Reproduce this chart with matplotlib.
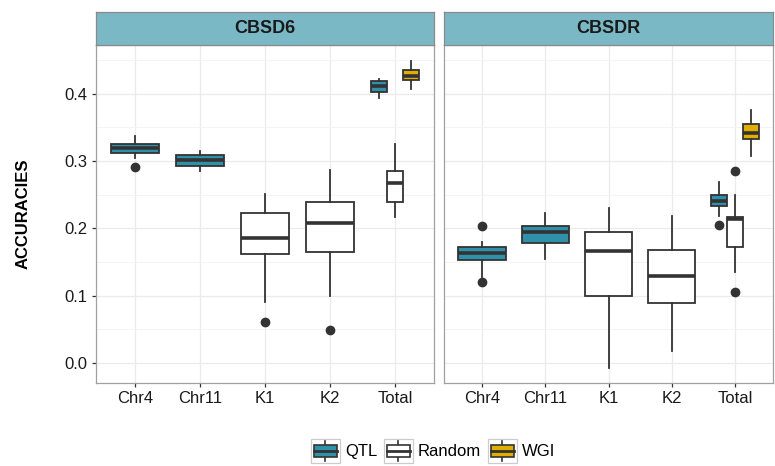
import matplotlib
matplotlib.use("Agg")
import matplotlib.pyplot as plt
from matplotlib.patches import Rectangle
from matplotlib.lines import Line2D
from matplotlib.legend_handler import HandlerBase
import numpy as np

plt.rcParams['font.family'] = ['Liberation Sans', 'DejaVu Sans']

categories = ["Chr4", "Chr11", "K1", "K2", "Total"]
panels = ["CBSD6", "CBSDR"]
groups = ["QTL", "Random", "WGI"]
group_colors = {"QTL": "#2F90AA", "Random": "#FFFFFF", "WGI": "#E0AE00"}

# ---- CBSD6 ----
cbsd6_qtl_cats = ["Chr4", "Chr11", "Total"]
cbsd6_qtl_lo = [0.305, 0.285, 0.394]
cbsd6_qtl_q1 = [0.312, 0.292, 0.403]
cbsd6_qtl_med = [0.320, 0.302, 0.411]
cbsd6_qtl_q3 = [0.325, 0.309, 0.4185]
cbsd6_qtl_hi = [0.338, 0.315, 0.422]
cbsd6_qtl_out = [[0.291], [], []]

cbsd6_rand_cats = ["K1", "K2", "Total"]
cbsd6_rand_lo = [0.090, 0.100, 0.217]
cbsd6_rand_q1 = [0.162, 0.165, 0.239]
cbsd6_rand_med = [0.186, 0.208, 0.267]
cbsd6_rand_q3 = [0.223, 0.239, 0.286]
cbsd6_rand_hi = [0.251, 0.287, 0.325]
cbsd6_rand_out = [[0.0615], [0.049], []]

cbsd6_wgi_cats = ["Total"]
cbsd6_wgi_lo = [0.407]
cbsd6_wgi_q1 = [0.420]
cbsd6_wgi_med = [0.427]
cbsd6_wgi_q3 = [0.436]
cbsd6_wgi_hi = [0.448]
cbsd6_wgi_out = [[]]

# ---- CBSDR ----
cbsdr_qtl_cats = ["Chr4", "Chr11", "Total"]
cbsdr_qtl_lo = [0.128, 0.154, 0.218]
cbsdr_qtl_q1 = [0.153, 0.178, 0.234]
cbsdr_qtl_med = [0.163, 0.194, 0.241]
cbsdr_qtl_q3 = [0.173, 0.204, 0.250]
cbsdr_qtl_hi = [0.1805, 0.2235, 0.269]
cbsdr_qtl_out = [[0.203, 0.120], [], [0.205]]

cbsdr_rand_cats = ["K1", "K2", "Total"]
cbsdr_rand_lo = [-0.007, 0.0185, 0.135]
cbsdr_rand_q1 = [0.099, 0.089, 0.173]
cbsdr_rand_med = [0.166, 0.129, 0.2135]
cbsdr_rand_q3 = [0.195, 0.168, 0.2165]
cbsdr_rand_hi = [0.231, 0.219, 0.250]
cbsdr_rand_out = [[], [], [0.285, 0.105]]

cbsdr_wgi_cats = ["Total"]
cbsdr_wgi_lo = [0.3075]
cbsdr_wgi_q1 = [0.3325]
cbsdr_wgi_med = [0.342]
cbsdr_wgi_q3 = [0.3545]
cbsdr_wgi_hi = [0.3755]
cbsdr_wgi_out = [[]]

series = {
    "CBSD6": {
        "QTL": (cbsd6_qtl_cats, cbsd6_qtl_lo, cbsd6_qtl_q1, cbsd6_qtl_med, cbsd6_qtl_q3, cbsd6_qtl_hi, cbsd6_qtl_out),
        "Random": (cbsd6_rand_cats, cbsd6_rand_lo, cbsd6_rand_q1, cbsd6_rand_med, cbsd6_rand_q3, cbsd6_rand_hi, cbsd6_rand_out),
        "WGI": (cbsd6_wgi_cats, cbsd6_wgi_lo, cbsd6_wgi_q1, cbsd6_wgi_med, cbsd6_wgi_q3, cbsd6_wgi_hi, cbsd6_wgi_out),
    },
    "CBSDR": {
        "QTL": (cbsdr_qtl_cats, cbsdr_qtl_lo, cbsdr_qtl_q1, cbsdr_qtl_med, cbsdr_qtl_q3, cbsdr_qtl_hi, cbsdr_qtl_out),
        "Random": (cbsdr_rand_cats, cbsdr_rand_lo, cbsdr_rand_q1, cbsdr_rand_med, cbsdr_rand_q3, cbsdr_rand_hi, cbsdr_rand_out),
        "WGI": (cbsdr_wgi_cats, cbsdr_wgi_lo, cbsdr_wgi_q1, cbsdr_wgi_med, cbsdr_wgi_q3, cbsdr_wgi_hi, cbsdr_wgi_out),
    },
}

W, H = 775, 466
fig = plt.figure(figsize=(W / 100, H / 100), dpi=100)

def fx(px):
    return px / W

def fy(py):
    return 1 - py / H

panel_px = [(96, 434), (444, 773)]
top_px, bot_px, strip_top = 45, 383, 12
line_col = "#333333"
dodge = 0.75

for pi, (pname, (x0, x1)) in enumerate(zip(panels, panel_px)):
    ax = fig.add_axes([fx(x0), fy(bot_px), fx(x1 - x0), (bot_px - top_px) / H])
    ax.set_xlim(0.4, 5.6)
    ax.set_ylim(-0.0297, 0.4725)
    ax.set_yticks([0.0, 0.1, 0.2, 0.3, 0.4])
    ax.set_yticks([0.05, 0.15, 0.25, 0.35, 0.45], minor=True)
    ax.set_xticks(range(1, 6))
    ax.set_xticklabels(categories)
    ax.grid(True, which="major", color="#EBEBEB", lw=0.9, zorder=0)
    ax.grid(True, which="minor", axis="y", color="#F3F3F3", lw=0.6, zorder=0)
    ax.set_axisbelow(True)
    for s in ax.spines.values():
        s.set_color("#A0A0A0")
        s.set_linewidth(0.9)
    ax.tick_params(axis="both", which="major", length=3, width=0.9, color=line_col,
                   labelsize=12, labelcolor="#1A1A1A", pad=3)
    ax.tick_params(axis="y", which="minor", length=0)
    if pi == 0:
        ax.set_ylabel("ACCURACIES", fontsize=12, fontweight="bold", labelpad=22)
        ax.yaxis.set_label_coords(-0.195, 0.5)
    else:
        ax.tick_params(axis="y", which="major", length=0, labelleft=False)

    # count groups per category for dodging
    present = {c: [g for g in groups if c in series[pname][g][0]] for c in categories}
    for g in groups:
        cats, lo, q1, med, q3, hi, out = series[pname][g]
        stats, pos, wid = [], [], []
        for i, c in enumerate(cats):
            n = len(present[c])
            k = present[c].index(g)
            w = dodge / n
            center = categories.index(c) + 1 - dodge / 2 + w * (k + 0.5)
            stats.append(dict(whislo=lo[i], q1=q1[i], med=med[i], q3=q3[i],
                              whishi=hi[i], fliers=np.array(out[i])))
            pos.append(center)
            wid.append(w)
        ax.bxp(stats, positions=pos, widths=wid, patch_artist=True, showcaps=False,
               boxprops=dict(facecolor=group_colors[g], edgecolor=line_col, linewidth=1.3),
               whiskerprops=dict(color=line_col, linewidth=1.3),
               medianprops=dict(color=line_col, linewidth=2.6, solid_capstyle="butt"),
               flierprops=dict(marker="o", markerfacecolor=line_col, markeredgecolor=line_col,
                               markersize=6),
               manage_ticks=False, zorder=3)

    # strip
    sax = fig.add_axes([fx(x0), fy(top_px), fx(x1 - x0), (top_px - strip_top) / H])
    sax.set_facecolor("#7AB8C6")
    sax.set_xticks([])
    sax.set_yticks([])
    for s in sax.spines.values():
        s.set_color("#8A8A8A")
        s.set_linewidth(0.9)
    sax.text(0.5, 0.5, pname, ha="center", va="center", fontsize=13,
             fontweight="bold", color="#1A1A1A", transform=sax.transAxes)


class BoxKey(HandlerBase):
    def create_artists(self, legend, orig_handle, xdescent, ydescent, width, height,
                       fontsize, trans):
        fc = orig_handle.get_facecolor()
        x0, y0 = -xdescent, -ydescent
        arts = [Rectangle((x0, y0), width, height, facecolor="#FFFFFF", edgecolor="#CCCCCC",
                          lw=0.9, transform=trans)]
        bx0, bw = x0 + width * 0.1, width * 0.8
        by0, bh = y0 + height * 0.25, height * 0.5
        arts.append(Line2D([x0 + width / 2] * 2, [y0 + height * 0.08, y0 + height * 0.92],
                           color=line_col, lw=1.2, transform=trans))
        arts.append(Rectangle((bx0, by0), bw, bh, facecolor=fc, edgecolor=line_col, lw=1.2,
                              transform=trans))
        arts.append(Line2D([bx0, bx0 + bw], [y0 + height / 2] * 2, color=line_col, lw=2.0,
                           transform=trans))
        return arts


handles = [Rectangle((0, 0), 1, 1, facecolor=group_colors[g]) for g in groups]
fig.legend(handles, groups, handler_map={Rectangle: BoxKey()}, loc="center",
           bbox_to_anchor=(fx(433), fy(451)), ncol=3, frameon=False, fontsize=12,
           handlelength=1.75, handleheight=1.75, handletextpad=0.3, columnspacing=0.4,
           borderpad=0)

fig.savefig("out.png", dpi=100)
